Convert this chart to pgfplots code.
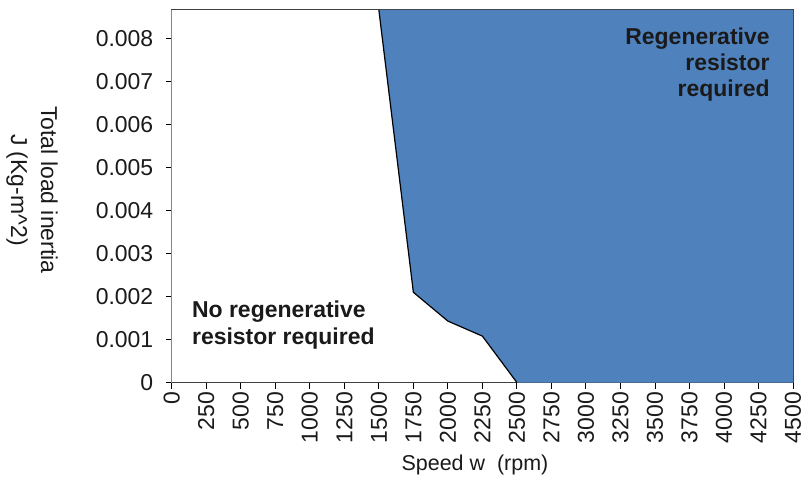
\documentclass[border=0pt]{standalone}
\usepackage{fontspec}
\setmainfont{Liberation Sans}
\usepackage{pgfplots}
\pgfplotsset{compat=1.18}
\definecolor{areablue}{HTML}{4F81BD}
\definecolor{axisgray}{HTML}{868686}
\definecolor{txt}{HTML}{1A1A1A}

\begin{document}
\begin{tikzpicture}[x=1pt,y=1pt]
\begin{axis}[
    scale only axis,
    width=622pt, height=373pt,
    xmin=0, xmax=4500,
    ymin=0, ymax=0.00867,
    xtick={0,250,...,4500},
    ytick={0,0.001,...,0.008},
    scaled y ticks=false,
    axis line style={black!75, line width=1pt},
    tick align=outside,
    major tick length=6pt,
    tick style={black, line width=0.9pt},
    xtick pos=bottom, ytick pos=left,
    /pgf/number format/assume math mode=true,
    xticklabel style={rotate=90, anchor=east, font=\fontsize{23}{27}\selectfont, text=txt,
        /pgf/number format/1000 sep={}},
    yticklabel style={font=\fontsize{23}{27}\selectfont, text=txt, xshift=-9pt,
        /pgf/number format/fixed, /pgf/number format/precision=3},
    clip=false,
]
% region needing a regenerative resistor
\addplot[fill=areablue, draw=none] coordinates {
    (1500,0.00867) (1750,0.0021) (2000,0.00143) (2250,0.00108) (2500,0)
    (4500,0) (4500,0.00867)} -- cycle;
% boundary
\addplot[black, line width=1.2pt] coordinates {
    (1500,0.00867) (1750,0.0021) (2000,0.00143) (2250,0.00108) (2500,0)};

\draw[axisgray, line width=1.2pt] (rel axis cs:0,0) -- (rel axis cs:0,1);

\node[anchor=north west, align=left, font=\bfseries\fontsize{23}{27}\selectfont, text=txt]
    at (rel axis cs:0.027,0.228) {No regenerative\\resistor required};
\node[anchor=north east, align=right, font=\bfseries\fontsize{23}{26}\selectfont, text=txt]
    at (rel axis cs:0.968,0.962) {Regenerative\\resistor\\required};

\node[rotate=-90, align=center, font=\fontsize{23}{30}\selectfont, text=txt]
    at (rel axis cs:-0.225,0.517) {Total load inertia\\J (Kg-m\textasciicircum 2)};
\node[font=\fontsize{21.5}{25}\selectfont, text=txt]
    at (rel axis cs:0.488,-0.2225) {Speed w\ \ (rpm)};

\coordinate (bbSW) at (rel axis cs:-0.2765,-0.2654);
\coordinate (bbNE) at (rel axis cs:1.0225,1.0268);
\end{axis}
\pgfresetboundingbox
\path (bbSW) rectangle (bbNE);
\end{tikzpicture}
\end{document}
